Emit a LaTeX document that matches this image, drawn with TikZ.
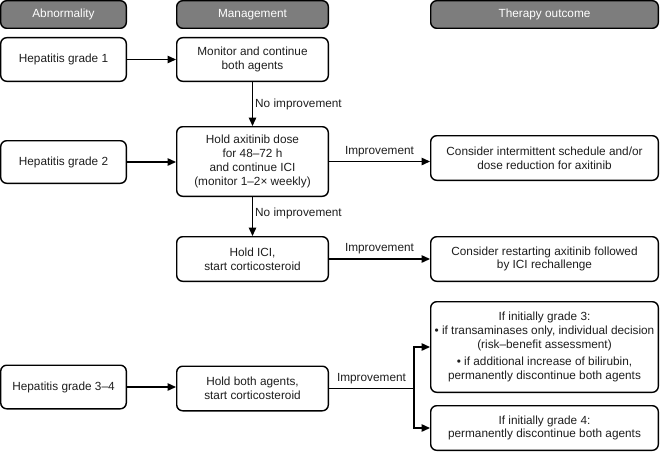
\documentclass[tikz,border=0pt]{standalone}
\usepackage{fontspec}
\setmainfont{Liberation Sans}
\usetikzlibrary{arrows.meta}
\definecolor{hdrgray}{RGB}{125,125,125}
\definecolor{txt}{RGB}{30,30,30}
\begin{document}
\begin{tikzpicture}[x=1pt,y=-1pt,
  box/.style={draw=black, line width=1.4pt, rounded corners=6pt, fill=white, align=center,
    inner sep=1pt, text=txt, font=\fontsize{11.8}{13.8}\selectfont},
  hdr/.style={box, fill=hdrgray, text=white, minimum height=27.6pt},
  colA/.style={minimum width=125.6pt},
  colM/.style={minimum width=151.6pt},
  colO/.style={minimum width=227.6pt},
  arr/.style={line width=1.4pt, -{Triangle[length=8.5pt,width=7.5pt]}},
  ln/.style={line width=1.4pt},
  lbl/.style={font=\fontsize{11.8}{13.8}\selectfont, text=txt, inner sep=1pt}]
\useasboundingbox (0,0) rectangle (660,452);

% headers
\node[hdr, colA] (h1) at (63.5,14.5) {Abnormality};
\node[hdr, colM] (h2) at (252.5,14.5) {Management};
\node[hdr, colO] (h3) at (544.5,14.5) {Therapy outcome};

% column A
\node[box, colA, minimum height=43.6pt] (a1) at (63.5,59.5) {Hepatitis grade 1};
\node[box, colA, minimum height=42.6pt] (a2) at (63.5,162) {Hepatitis grade 2};
\node[box, colA, minimum height=43.6pt] (a3) at (63.5,387) {Hepatitis grade 3–4};

% column M
\node[box, colM, minimum height=43.6pt] (m1) at (252.5,59.5) {Monitor and continue\\both agents};
\node[box, colM, minimum height=69.6pt] (m2) at (252.5,161.5) {Hold axitinib dose\\for 48–72 h\\and continue ICI\\(monitor 1–2× weekly)};
\node[box, colM, minimum height=44.6pt] (m3) at (252.5,259) {Hold ICI,\\start corticosteroid};
\node[box, colM, minimum height=44.6pt] (m4) at (252.5,388.5) {Hold both agents,\\start corticosteroid};

% column O
\node[box, colO, minimum height=44.6pt] (o1) at (544.5,158) {Consider intermittent schedule and/or\\dose reduction for axitinib};
\node[box, colO, minimum height=44.6pt] (o2) at (544.5,259) {Consider restarting axitinib followed\\by ICI rechallenge};
\node[box, colO, minimum height=90.6pt] (o3) at (544.5,347) {If initially grade 3:\\• if transaminases only, individual decision\\(risk–benefit assessment)\\[3pt]• if additional increase of bilirubin,\\permanently discontinue both agents};
\node[box, colO, minimum height=44.6pt] (o4) at (544.5,428) {If initially grade 4:\\permanently discontinue both agents};

% connectors
\draw[arr] (a1.east) -- (a1.east -| m1.west);
\draw[arr] (a2.east) -- (a2.east -| m2.west);
\draw[arr] (a3.east) -- (a3.east -| m4.west);

\draw[arr] (m1.south) -- node[lbl, right=1pt] {No improvement} (m2.north);
\draw[arr] (m2.south) -- node[lbl, right=1pt, yshift=3pt] {No improvement} (m3.north);

\draw[arr] (m2.east) -- node[lbl, above=3pt] {Improvement} (m2.east -| o1.west);
\draw[arr] (m3.east) -- node[lbl, above=3pt] {Improvement} (m3.east -| o2.west);

\coordinate (br) at (414,388.5);
\draw[ln] (m4.east) -- node[lbl, above=3pt] {Improvement} (br);
\draw[arr] (br) |- (o3.west);
\draw[arr] (br) |- (o4.west);
\end{tikzpicture}
\end{document}
